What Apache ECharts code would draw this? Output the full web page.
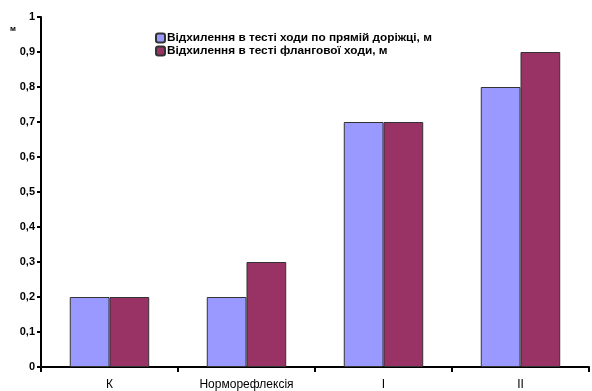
<!DOCTYPE html>
<html>
<head>
<meta charset="utf-8">
<script src="https://cdn.jsdelivr.net/npm/echarts@6/dist/echarts.min.js"></script>
<style>
html,body{margin:0;padding:0;background:#fff;}
#chart{width:592px;height:391px;}
</style>
</head>
<body>
<div id="chart"></div>
<script>
// Categories and measured deviations (metres)
var categories = ['К', 'Норморефлексія', 'I', 'II'];
var straightWalk = [0.2, 0.2, 0.7, 0.8];
var flankWalk = [0.2, 0.3, 0.7, 0.9];
var seriesNames = ['Відхилення в тесті ходи по прямій доріжці, м', 'Відхилення в тесті флангової ходи, м'];

var chart = echarts.init(document.getElementById('chart'));
var font = 'Liberation Sans, Arial, sans-serif';
chart.setOption({
  animation: false,
  textStyle: { fontFamily: font },
  grid: { left: 41, right: 3, top: 17, bottom: 23, containLabel: false },
  legend: {
    left: 150, top: 27, orient: 'vertical', itemGap: 1,
    itemWidth: 9, itemHeight: 9,
    textStyle: { fontFamily: font, fontSize: 11.8, fontWeight: 'bold', color: '#000', padding: [0, 0, 0, -3] },
    data: seriesNames
  },
  xAxis: {
    type: 'category', data: categories,
    axisLine: { lineStyle: { color: '#000', width: 2 } },
    axisTick: { show: true, length: 5, lineStyle: { color: '#000', width: 2 } },
    axisLabel: { color: '#000', fontSize: 12, fontFamily: font, margin: 12 }
  },
  yAxis: {
    type: 'value', min: 0, max: 1, interval: 0.1,
    name: 'м', nameLocation: 'end', nameGap: -16,
    nameTextStyle: { fontSize: 8, fontWeight: 'bold', color: '#000', align: 'right', padding: [0, 25, 0, 0] },
    axisLine: { show: true, lineStyle: { color: '#000', width: 2 } },
    axisTick: { show: true, length: 4, lineStyle: { color: '#000', width: 2 } },
    splitLine: { show: false },
    axisLabel: {
      color: '#000', fontSize: 11, fontWeight: 'bold', fontFamily: font, margin: 6,
      formatter: function (v) { return String(Math.round(v * 10) / 10).replace('.', ','); }
    }
  },
  series: [
    {
      name: seriesNames[0], type: 'bar', data: straightWalk, barCategoryGap: '42%', barGap: '0%',
      itemStyle: { color: '#9999FF', borderColor: '#333', borderWidth: 1 }
    },
    {
      name: seriesNames[1], type: 'bar', data: flankWalk, barCategoryGap: '42%', barGap: '0%',
      itemStyle: { color: '#993366', borderColor: '#333', borderWidth: 1 }
    }
  ]
});
</script>
</body>
</html>
